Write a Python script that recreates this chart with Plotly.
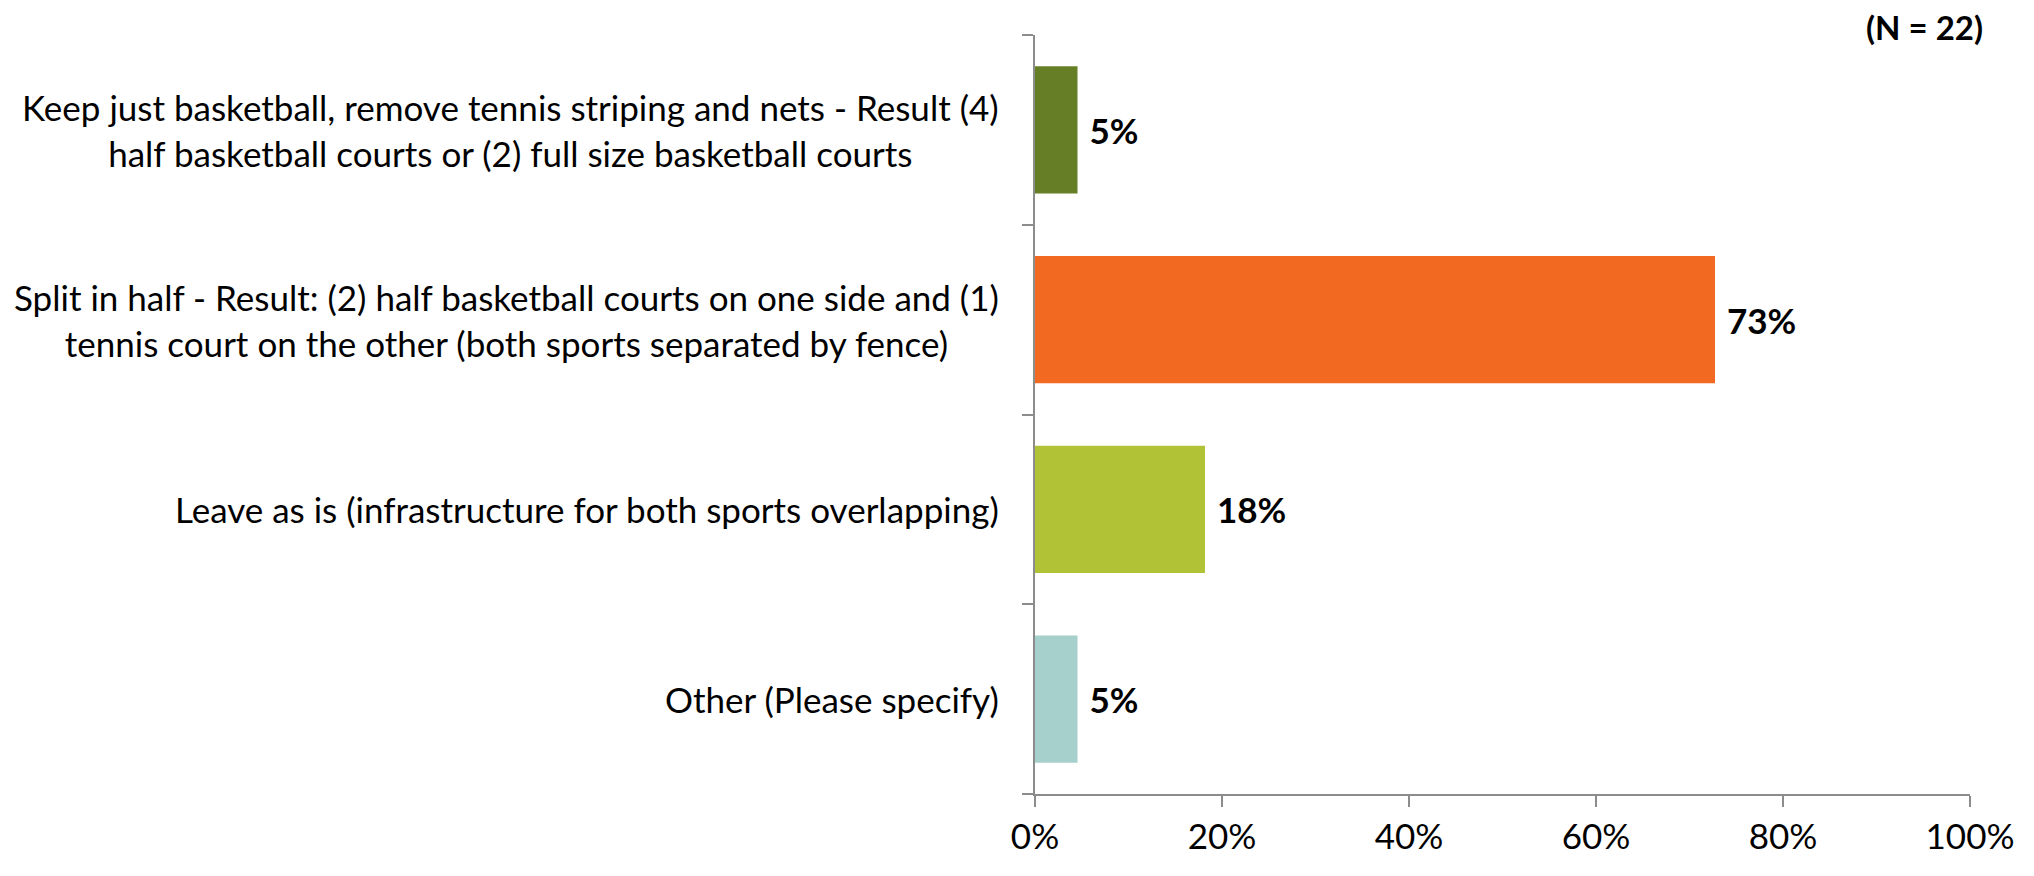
import plotly.graph_objects as go

categories = [
    "Keep just basketball, remove tennis striping and nets - Result (4)<br>half basketball courts or (2) full size basketball courts",
    "Split in half - Result: (2) half basketball courts on one side and (1)<br>tennis court on the other (both sports separated by fence)",
    "Leave as is (infrastructure for both sports overlapping)",
    "Other (Please specify)",
]
values = [1/22, 16/22, 4/22, 1/22]
colors = ["#667F27", "#F26A22", "#B2C236", "#A6D0CB"]
x_ticks = [0, 0.2, 0.4, 0.6, 0.8, 1.0]
x_tick_labels = ["0%", "20%", "40%", "60%", "80%", "100%"]
note = "(N = 22)"

FONT = "Lato"
FS = 35
fig = go.Figure()
fig.add_trace(go.Bar(
    y=list(range(len(categories))),
    x=values,
    orientation="h",
    marker=dict(color=colors, line=dict(width=0)),
    texttemplate="\u00a0<b>%{x:.0%}</b>",
    textposition="outside",
    textfont=dict(family=FONT, size=FS, color="black"),
    cliponaxis=False,
    hoverinfo="skip",
))

for i, c in enumerate(categories):
    fig.add_annotation(
        x=-0.036, xref="paper", y=i, yref="y",
        text=c, showarrow=False, xanchor="right", yanchor="middle",
        align="center", font=dict(family=FONT, size=FS, color="black"),
    )

fig.add_annotation(
    x=1.016, xref="paper", y=1.01, yref="paper",
    text="<b>" + note + "</b>", showarrow=False, xanchor="right", yanchor="middle",
    font=dict(family=FONT, size=33, color="black"),
)

fig.update_layout(
    width=2018, height=860,
    margin=dict(l=1027, r=52, t=27, b=56),
    paper_bgcolor="white", plot_bgcolor="white",
    bargap=0.33, showlegend=False,
    font=dict(family=FONT, size=FS, color="black"),
)
fig.update_xaxes(
    range=[0, 1], tickvals=x_ticks, ticktext=x_tick_labels,
    showgrid=False, zeroline=False, showline=True, linecolor="#8C8C8C", linewidth=2,
    ticks="outside", ticklen=11, tickwidth=2, tickcolor="#8C8C8C",
    tickfont=dict(family=FONT, size=FS, color="black"),
)
fig.update_yaxes(
    type="linear", range=[3.5, -0.5], tickvals=[-0.5, 0.5, 1.5, 2.5, 3.5],
    showticklabels=False,
    showgrid=False, zeroline=False, showline=True, linecolor="#8C8C8C", linewidth=2,
    ticks="outside", ticklen=11, tickwidth=2, tickcolor="#8C8C8C",
)
fig.write_html("out.html")
